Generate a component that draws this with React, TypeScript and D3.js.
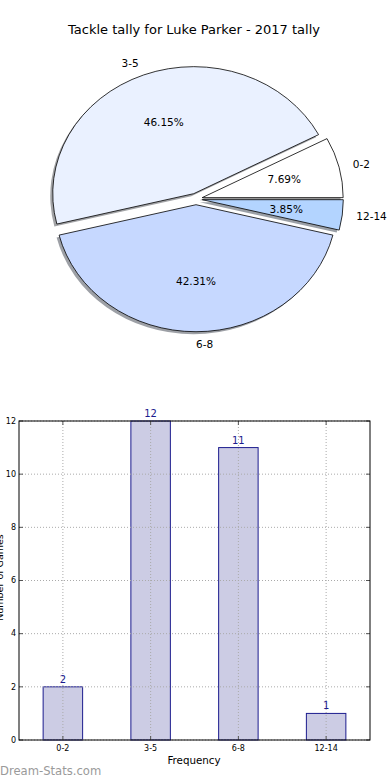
import React from "react";
import * as d3 from "d3";

// data
const categories = ["0-2", "3-5", "6-8", "12-14"];
const counts = [2, 12, 11, 1];
const sliceColors = ["#ffffff", "#eaf1ff", "#c6d8ff", "#b3d4ff"];
const yTicks = [0, 2, 4, 6, 8, 10, 12];

const W = 390;
const H = 780;
const FONT = "DejaVu Sans, sans-serif";

// pie geometry
const cx = 196;
const cy = 199;
const ry = 127;
const rx = 141;
const sx = rx / ry;
const explode = 0.045;

function Pie() {
  const total = d3.sum(counts);
  // matplotlib style: start at 3 o'clock, go counter-clockwise
  const arcs = d3
    .pie<number>()
    .sort(null)
    .startAngle(Math.PI / 2)
    .endAngle(Math.PI / 2 - 2 * Math.PI)(counts);
  const arc = d3.arc<d3.PieArcDatum<number>>().innerRadius(0).outerRadius(ry);

  const mids = arcs.map((a) => (a.startAngle + a.endAngle) / 2);
  const off = mids.map((m) => [Math.sin(m) * explode * ry, -Math.cos(m) * explode * ry]);

  const shade = (c: string) => {
    const r = d3.rgb(c);
    return d3.rgb(r.r * 0.3, r.g * 0.3, r.b * 0.3).formatHex();
  };

  return (
    <g>
      <text x={194} y={34} textAnchor="middle" fontSize={13} fontFamily={FONT} fill="#000">
        Tackle tally for Luke Parker - 2017 tally
      </text>
      {/* shadows */}
      {arcs.map((a, i) => (
        <g key={"s" + i} transform={`translate(${cx - 2.5},${cy + 2.5}) scale(${sx},1) translate(${off[i][0]},${off[i][1]})`}>
          <path d={arc(a) || ""} fill={shade(sliceColors[i])} fillOpacity={0.5} />
        </g>
      ))}
      {arcs.map((a, i) => (
        <g key={"p" + i} transform={`translate(${cx},${cy}) scale(${sx},1) translate(${off[i][0]},${off[i][1]})`}>
          <path d={arc(a) || ""} fill={sliceColors[i]} stroke="#000" strokeWidth={0.8} vectorEffect="non-scaling-stroke" strokeLinejoin="round" />
        </g>
      ))}
      {arcs.map((a, i) => {
        const m = mids[i];
        const ux = Math.sin(m);
        const uy = -Math.cos(m);
        const ox = off[i][0] * sx;
        const oy = off[i][1];
        const lx = cx + ox + ux * 1.1 * ry * sx;
        const ly = cy + oy + uy * 1.1 * ry;
        const px = cx + ox + ux * 0.6 * ry * sx;
        const py = cy + oy + uy * 0.6 * ry;
        const pct = ((counts[i] / total) * 100).toFixed(2) + "%";
        return (
          <g key={"t" + i} fontFamily={FONT} fontSize={10.5} fill="#000">
            <text x={lx} y={ly} dy="0.35em" textAnchor={ux > -1e-6 ? "start" : "end"}>
              {categories[i]}
            </text>
            <text x={px} y={py} dy="0.35em" textAnchor="middle">
              {pct}
            </text>
          </g>
        );
      })}
    </g>
  );
}

function Bars() {
  const left = 19;
  const right = 370;
  const top = 421;
  const bottom = 740;
  const x = d3.scaleLinear().domain([-0.5, categories.length - 0.5]).range([left, right]);
  const y = d3.scaleLinear().domain([0, 12]).range([bottom, top]);
  const bw = (x(1) - x(0)) * 0.45;
  const tickLen = 4;

  return (
    <g fontFamily={FONT}>
      {counts.map((v, i) => (
        <rect
          key={"b" + i}
          x={x(i) - bw / 2}
          y={y(v)}
          width={bw}
          height={y(0) - y(v)}
          fill="#cccce4"
          stroke="#1c1c8e"
          strokeWidth={1}
        />
      ))}
      {/* grid */}
      {yTicks.map((t) => (
        <line key={"gy" + t} x1={left} x2={right} y1={y(t)} y2={y(t)} stroke="#aaa" strokeDasharray="1,2" strokeWidth={1} />
      ))}
      {categories.map((c, i) => (
        <line key={"gx" + c} x1={x(i)} x2={x(i)} y1={top} y2={bottom} stroke="#aaa" strokeDasharray="1,2" strokeWidth={1} />
      ))}
      {/* ticks */}
      {yTicks.map((t) => (
        <g key={"ty" + t}>
          <line x1={left} x2={left + tickLen} y1={y(t)} y2={y(t)} stroke="#555" />
          <line x1={right - tickLen} x2={right} y1={y(t)} y2={y(t)} stroke="#555" />
          <text x={16} y={y(t)} dy="0.35em" textAnchor="end" fontSize={8} fill="#000">
            {t}
          </text>
        </g>
      ))}
      {categories.map((c, i) => (
        <g key={"tx" + c}>
          <line x1={x(i)} x2={x(i)} y1={bottom} y2={bottom - tickLen} stroke="#555" />
          <line x1={x(i)} x2={x(i)} y1={top} y2={top + tickLen} stroke="#555" />
          <text x={x(i)} y={bottom + 11} textAnchor="middle" fontSize={8} fill="#000">
            {c}
          </text>
        </g>
      ))}
      <rect x={left} y={top} width={right - left} height={bottom - top} fill="none" stroke="#000" strokeWidth={1} />
      {counts.map((v, i) => (
        <text key={"v" + i} x={x(i)} y={y(v) - 4} textAnchor="middle" fontSize={10} fill="#1c1c8e">
          {v}
        </text>
      ))}
      <text x={194} y={764} textAnchor="middle" fontSize={10.3} fill="#000">
        Frequency
      </text>
      <text transform={`translate(3,${(top + bottom) / 2 - 3}) rotate(-90)`} textAnchor="middle" fontSize={9.5} fill="#000">
        Number of Games
      </text>
    </g>
  );
}

export default function App() {
  return (
    <svg
      width={W}
      height={H}
      viewBox={`0 0 ${W} ${H}`}
      style={{ position: "absolute", left: 0, top: 0, background: "#fff" }}
    >
      <rect width={W} height={H} fill="#fff" />
      <Pie />
      <Bars />
      <text x={0} y={775} fontSize={11.6} fontFamily={FONT} fill="#9a9a9a">
        Dream-Stats.com
      </text>
    </svg>
  );
}
